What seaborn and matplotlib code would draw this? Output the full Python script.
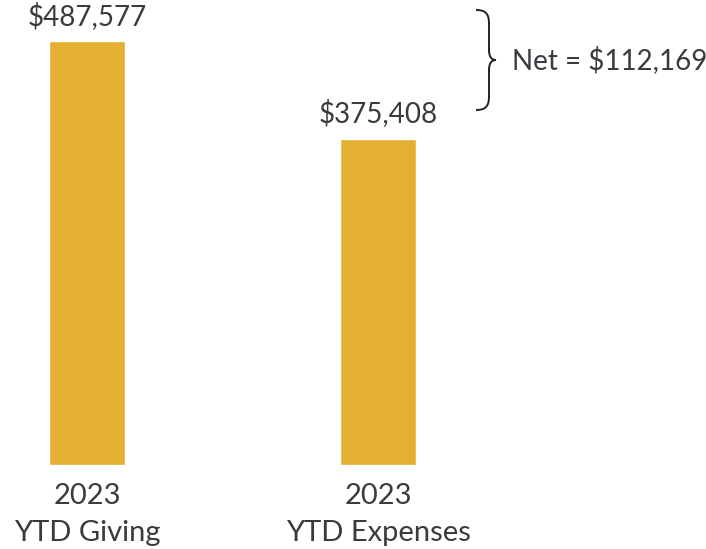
"""
YTD giving vs expenses, two bars with a brace marking the net.
"""

import matplotlib
matplotlib.use('Agg')
import matplotlib.pyplot as plt
from matplotlib.path import Path
from matplotlib.patches import PathPatch
from matplotlib.transforms import Affine2D
import seaborn as sns
import pandas as pd

categories = ['2023\nYTD Giving', '2023\nYTD Expenses']
amounts = [487577, 375408]
net_label = 'Net = $112,169'

GOLD = '#E3B034'
INK = '#3A3A40'

sns.set_theme(style='white')
plt.rcParams['font.family'] = ['Lato', 'DejaVu Sans']

df = pd.DataFrame({'cat': categories, 'amt': amounts})

fig = plt.figure(figsize=(7.06, 5.49), dpi=100)
ax = fig.add_axes([0, 84 / 549, 1, 465 / 549])

sns.barplot(data=df, x='cat', y='amt', color=GOLD, width=0.26,
            saturation=1, ax=ax)

ax.set_xlim(-87 / 291, (706 - 87) / 291)
ax.set_ylim(0, amounts[0] * 465 / 424)
ax.bar_label(ax.containers[0], labels=[f'${v:,.0f}' for v in amounts],
             padding=8, fontsize=20, color=INK)

sns.despine(ax=ax, left=True, bottom=True)
ax.set_xlabel('')
ax.set_ylabel('')
ax.set_yticks([])
ax.tick_params(axis='x', length=0, pad=13, labelsize=21, labelcolor=INK)
for t in ax.get_xticklabels():
    t.set_linespacing(1.5)

# brace, in figure pixels (origin top-left)
px = Affine2D().scale(1 / 706, -1 / 549).translate(0, 1) + fig.transFigure
verts = [
    (476, 10), (486, 10), (489, 14), (489, 24),
    (489, 50),
    (489, 56), (491, 60), (496, 60),
    (491, 60), (489, 64), (489, 70),
    (489, 96),
    (489, 106), (486, 110), (476, 110),
]
codes = [Path.MOVETO, Path.CURVE4, Path.CURVE4, Path.CURVE4,
         Path.LINETO,
         Path.CURVE4, Path.CURVE4, Path.CURVE4,
         Path.CURVE4, Path.CURVE4, Path.CURVE4,
         Path.LINETO,
         Path.CURVE4, Path.CURVE4, Path.CURVE4]
fig.patches.append(PathPatch(Path(verts, codes), transform=px,
                             fill=False, lw=1.4, ec='#222226'))
fig.text(512 / 706, 1 - 60 / 549, net_label, fontsize=20, color=INK,
         ha='left', va='center')

fig.savefig('out.png', dpi=100)
